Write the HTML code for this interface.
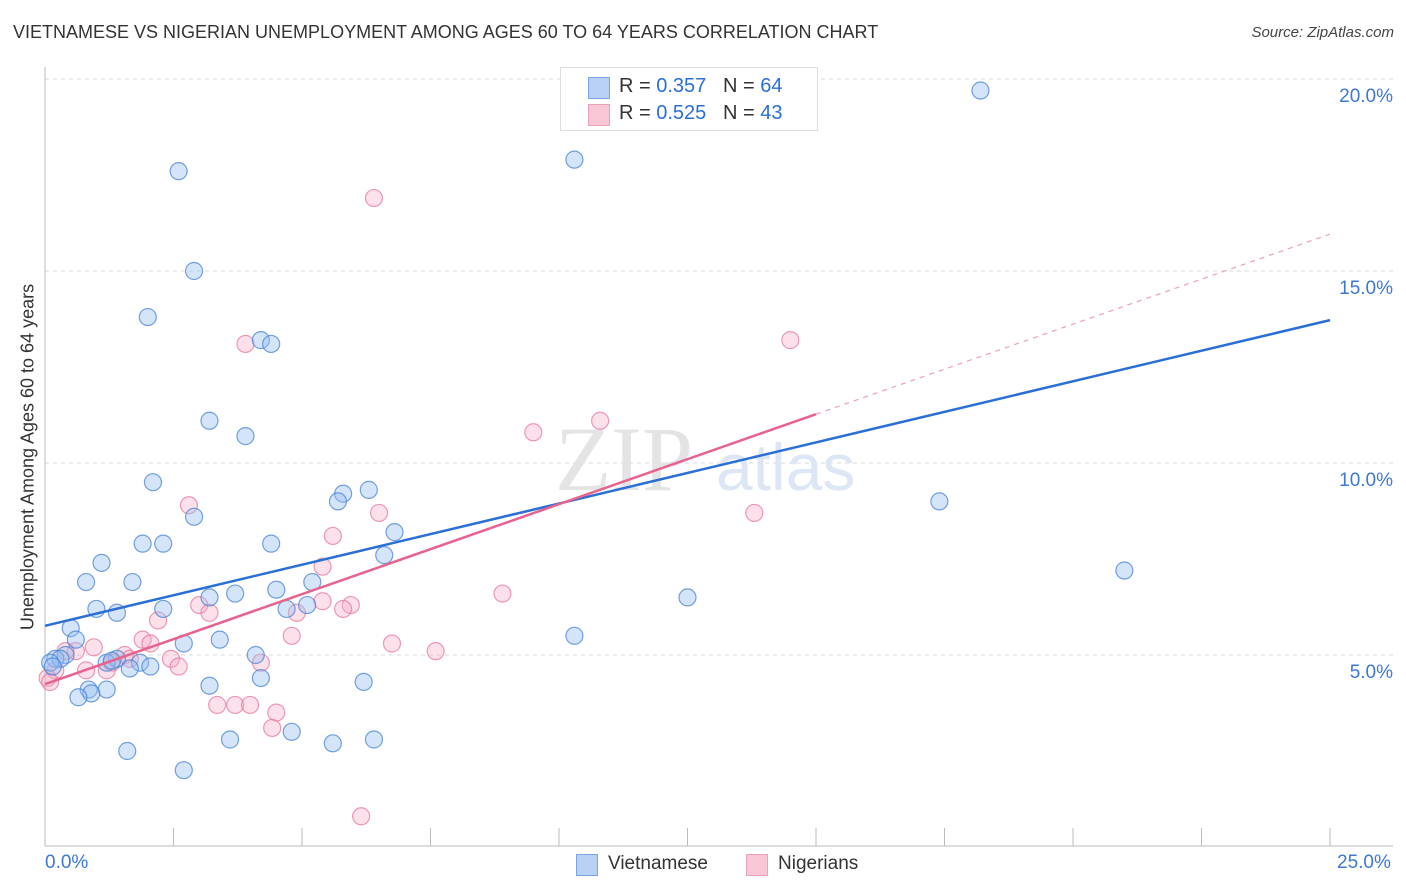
<!DOCTYPE html>
<html><head><meta charset="utf-8">
<style>
body{margin:0;background:#fff;font-family:"Liberation Sans",sans-serif;}
#wrap{position:relative;width:1406px;height:892px;overflow:hidden;}
.t{position:absolute;white-space:nowrap;}
</style></head>
<body>
<div id="wrap">
<div class="t" style="left:13px;top:22px;font-size:18px;color:#333;">VIETNAMESE VS NIGERIAN UNEMPLOYMENT AMONG AGES 60 TO 64 YEARS CORRELATION CHART</div>
<div class="t" style="right:12px;top:24px;font-size:15px;color:#444;font-style:italic;">Source: ZipAtlas.com</div>
<svg id="svg" width="1406" height="892" style="position:absolute;left:0;top:0"></svg>
</div>
<script>
const blueX=[18.2,10.3,2.6,2.9,2.0,4.2,4.4,3.2,3.9,2.1,6.3,5.8,5.7,17.4,2.9,6.8,2.3,1.9,4.4,6.6,1.1,21.0,0.8,1.7,5.2,4.5,3.7,3.2,12.5,5.1,4.7,1.0,1.4,2.3,0.5,10.3,3.4,2.7,0.6,4.1,0.4,0.2,0.3,0.1,0.15,1.85,2.05,1.4,1.2,1.65,4.2,6.2,3.2,1.2,0.85,0.9,0.65,1.6,3.6,4.8,5.6,6.4,2.7,1.3];
const blueY=[19.7,17.9,17.6,15.0,13.8,13.2,13.1,11.1,10.7,9.5,9.3,9.2,9.0,9.0,8.6,8.2,7.9,7.9,7.9,7.6,7.4,7.2,6.9,6.9,6.9,6.7,6.6,6.5,6.5,6.3,6.2,6.2,6.1,6.2,5.7,5.5,5.4,5.3,5.4,5.0,5.0,4.9,4.9,4.8,4.7,4.8,4.7,4.9,4.8,4.65,4.4,4.3,4.2,4.1,4.1,4.0,3.9,2.5,2.8,3.0,2.7,2.8,2.0,4.85];
const pinkX=[6.4,3.9,14.5,10.8,9.5,2.8,6.5,13.8,5.6,5.4,8.9,5.4,3.0,5.95,5.8,3.2,4.9,2.2,4.8,6.75,1.9,2.05,0.95,0.6,7.6,0.4,1.55,1.65,2.45,4.2,2.6,1.3,0.8,1.2,0.2,0.05,0.1,3.35,3.7,3.99,4.5,4.42,6.15];
const pinkY=[16.9,13.1,13.2,11.1,10.8,8.9,8.7,8.7,8.1,7.3,6.6,6.4,6.3,6.3,6.2,6.1,6.1,5.9,5.5,5.3,5.4,5.3,5.2,5.1,5.1,5.1,5.0,4.9,4.9,4.8,4.7,4.8,4.6,4.6,4.6,4.4,4.3,3.7,3.7,3.7,3.5,3.1,0.8];
const blueLine=[5.76,13.72];
const pinkLine=[4.24,15.96];
const pinkSolidEnd=15.0;
const yTicks=[5,10,15,20];
const yTickLabels=["5.0%","10.0%","15.0%","20.0%"];

const NS="http://www.w3.org/2000/svg";
const svg=document.getElementById('svg');
const X=v=>45+v*51.4, Y=v=>847-v*38.4;
function el(tag,attrs,parent){const e=document.createElementNS(NS,tag);for(const k in attrs)e.setAttribute(k,attrs[k]);(parent||svg).appendChild(e);return e;}
yTicks.forEach((t,i)=>{
 const g=el('line',{x1:45,x2:1393,y1:Y(t),y2:Y(t),stroke:'#d8d8d8','stroke-dasharray':'4,4'});
 
 
 const tx=el('text',{x:1393,y:Y(t)+23,'text-anchor':'end','font-size':19,fill:'#3b78d8','font-family':'Liberation Sans'});
 tx.textContent=yTickLabels[i];
 
 
});
const topGrid=el('line',{x1:45,x2:1393,y1:79,y2:79,stroke:'#d8d8d8','stroke-dasharray':'4,4'});


const ax=el('line',{x1:45,x2:1393,y1:846,y2:846,stroke:'#bbb'});


const ay=el('line',{x1:45,x2:45,y1:67,y2:846,stroke:'#bbb'});


for(let i=1;i<=10;i++){const tk=el('line',{x1:X(i*2.5),x2:X(i*2.5),y1:828,y2:846,stroke:'#bbb'});
 
 }
const wm=el('text',{x:555,y:490,'font-size':92,fill:'#e4e4e4','font-family':'Liberation Serif'});wm.textContent='ZIP';


const wm2=el('text',{x:716,y:490,'font-size':66,fill:'#dce6f5','font-family':'Liberation Sans'});wm2.textContent='atlas';


function pts(xs,ys,stroke,fill,name){xs.forEach((x,i)=>{const c=el('circle',{cx:X(x),cy:Y(ys[i]),r:8.5,fill:fill,stroke:stroke,'stroke-width':1.2});
 
 });}
pts(pinkX,pinkY,'rgba(232,120,155,0.75)','rgba(245,170,195,0.35)','nigerian-point');
pts(blueX,blueY,'rgba(70,130,215,0.75)','rgba(150,190,240,0.4)','vietnamese-point');
const bl=el('line',{x1:X(0),y1:Y(blueLine[0]),x2:X(25),y2:Y(blueLine[1]),stroke:'#2a6fd6','stroke-width':2.5});


const pAt=x=>pinkLine[0]+(pinkLine[1]-pinkLine[0])*x/25;
const pl=el('line',{x1:X(0),y1:Y(pAt(0)),x2:X(pinkSolidEnd),y2:Y(pAt(pinkSolidEnd)),stroke:'#e8628e','stroke-width':2.5});


const pd=el('line',{x1:X(pinkSolidEnd),y1:Y(pAt(pinkSolidEnd)),x2:X(25),y2:Y(pAt(25)),stroke:'#eaa0b8','stroke-width':1.2,'stroke-dasharray':'5,5'});


</script>
<div class="t" style="left:28px;top:457px;font-size:18px;color:#333;transform:translate(-50%,-50%) rotate(-90deg);">Unemployment Among Ages 60 to 64 years</div>
<div class="t" style="left:45px;top:852px;font-size:19px;color:#3b78d8;">0.0%</div>
<div class="t" style="left:1337px;top:852px;font-size:19px;color:#3b78d8;">25.0%</div>
<div style="position:absolute;left:560px;top:67px;width:256px;height:62px;border:1px solid #ddd;background:#fff;">
 <div style="position:absolute;left:27px;top:9px;width:20px;height:20px;background:#b7d0f4;border:1px solid #7aa5e3;"></div>
 <div class="t" style="left:58px;top:7px;font-size:20px;color:#333;">R = <span style="color:#2a6fd6">0.357</span>&nbsp;&nbsp;&nbsp;N = <span style="color:#2a6fd6">64</span></div>
 <div style="position:absolute;left:27px;top:36px;width:20px;height:20px;background:#f9c6d6;border:1px solid #eba1b9;"></div>
 <div class="t" style="left:58px;top:34px;font-size:20px;color:#333;">R = <span style="color:#2a6fd6">0.525</span>&nbsp;&nbsp;&nbsp;N = <span style="color:#2a6fd6">43</span></div>
</div>
<div style="position:absolute;left:576px;top:853px;height:24px;">
 <div style="position:absolute;left:0;top:1px;width:20px;height:20px;background:#b7d0f4;border:1px solid #7aa5e3;"></div>
 <div class="t" style="left:32px;top:0;font-size:19px;color:#333;">Vietnamese</div>
 <div style="position:absolute;left:170px;top:1px;width:20px;height:20px;background:#f9c6d6;border:1px solid #eba1b9;"></div>
 <div class="t" style="left:202px;top:0;font-size:19px;color:#333;">Nigerians</div>
</div>
</body></html>
